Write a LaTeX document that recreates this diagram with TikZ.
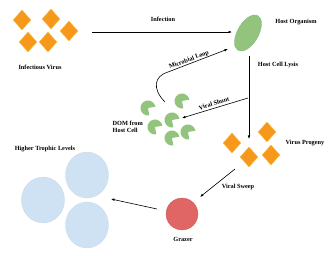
\documentclass[tikz,border=0pt]{standalone}
\usepackage{fontspec}
\setmainfont{Liberation Serif}
\usetikzlibrary{shapes.geometric,arrows.meta}
\definecolor{vorange}{RGB}{246,152,28}
\definecolor{vedge}{RGB}{250,190,60}
\definecolor{hgreen}{RGB}{147,196,125}
\definecolor{gred}{RGB}{224,102,102}
\definecolor{lblue}{RGB}{207,226,243}
\tikzset{
  virus/.style={diamond,fill=vorange,draw=vedge,line width=0.4pt,minimum width=18pt,minimum height=20pt,inner sep=0pt},
  lbl/.style={font=\fontsize{6.3}{7}\selectfont\bfseries,inner sep=0.5pt},
  conn/.style={line width=0.6pt,-{Latex[length=3.5pt,width=2.6pt]}},
  htl/.style={ellipse,fill=lblue,draw=lblue!90!gray,line width=0.3pt,minimum width=43pt,minimum height=46pt,inner sep=0pt},
}
\newcommand{\pacman}[2]{\fill[hgreen] (#1) -- ++(10:7.5pt) arc[start angle=10,end angle=280,radius=7.5pt] -- cycle; \coordinate (#2) at (#1);}
\begin{document}
\begin{tikzpicture}[x=1pt,y=1pt]
\useasboundingbox (0,0) rectangle (330,255);
% infectious virus
\node[virus] (v1) at (22,235) {};
\node[virus] (v2) at (51,236) {};
\node[virus] (v3) at (69,224) {};
\node[virus] (v4) at (28,213) {};
\node[virus] (v5) at (48,213) {};
\node[lbl] (lv) at (40,188) {Infectious Virus};
% host
\node[ellipse,fill=hgreen,draw=hgreen!90!black,line width=0.3pt,minimum width=40pt,minimum height=21pt,inner sep=0pt,rotate=60] (host) at (248,222) {};
\node[lbl] (lh) at (296,233) {Host Organism};
\coordinate (infA) at (92,223);
\coordinate (infB) at (232,223);
\draw[conn] (infA) -- (infB);
\node[lbl] (linf) at (163,236) {Infection};
% lysis
\coordinate (lysA) at (249,199);
\coordinate (lysB) at (249,116);
\draw[conn] (lysA) -- (lysB);
\node[lbl] (llys) at (278,190) {Host Cell Lysis};
% DOM
\pacman{148,147}{p1}
\pacman{182,154}{p2}
\pacman{172,135}{p3}
\pacman{155,128}{p4}
\pacman{188,123}{p5}
\pacman{172,117}{p6}
\node[lbl,align=left,anchor=west] (ldom) at (112,128) {DOM from\\Host Cell};
% microbial loop
\coordinate (mlA) at (165,153);
\coordinate (mlB) at (168,183);
\coordinate (mlC) at (228,206);
\draw[conn] (mlA) .. controls (152,166) and (154,179) .. (mlB) -- (mlC);
\node[lbl,rotate=21] (lml) at (189,195) {Microbial Loop};
% viral shunt
\coordinate (vsA) at (248,157);
\coordinate (vsB) at (182,137);
\draw[conn] (vsA) -- (vsB);
\node[lbl,rotate=17] (lvs) at (214,151.5) {Viral Shunt};
% progeny
\node[virus] (q1) at (232,112) {};
\node[virus] (q2) at (267,123) {};
\node[virus] (q3) at (249,98) {};
\node[virus] (q4) at (271,100) {};
\node[lbl] (lp) at (305,112) {Virus Progeny};
% viral sweep
\coordinate (swA) at (235,86);
\coordinate (swB) at (200,58);
\draw[conn] (swA) -- (swB);
\node[lbl] (lsw) at (238,68) {Viral Sweep};
% grazer
\node[circle,fill=gred,draw=gred!90!black,line width=0.3pt,minimum size=32pt,inner sep=0pt] (graz) at (182,41) {};
\node[lbl] (lg) at (183,16) {Grazer};
% higher trophic levels
\node[htl] (h1) at (87,80) {};
\node[htl] (h2) at (43,55) {};
\node[htl] (h3) at (87,30) {};
\node[lbl] (lhtl) at (45,106) {Higher Trophic Levels};
\coordinate (gtA) at (157,46);
\coordinate (gtB) at (111,56);
\draw[conn] (gtA) -- (gtB);
\end{tikzpicture}
\end{document}
